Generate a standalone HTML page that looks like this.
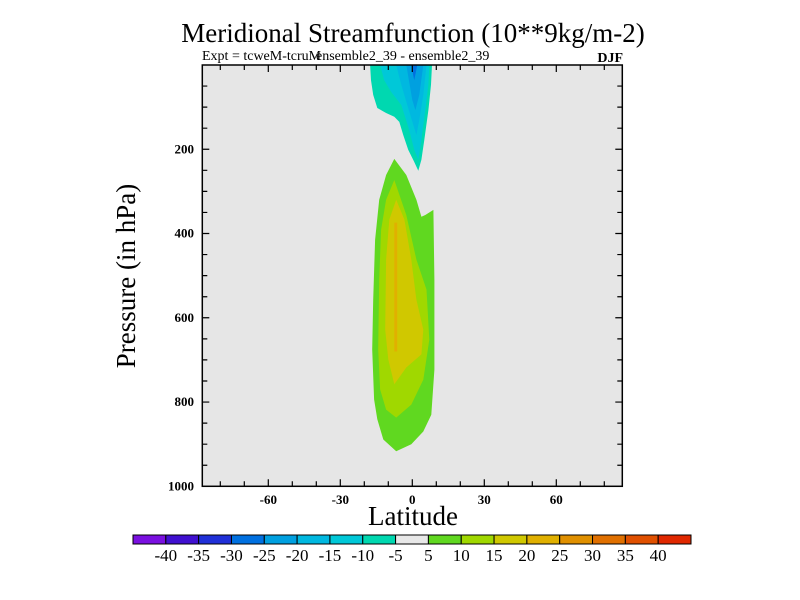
<!DOCTYPE html>
<html><head><meta charset="utf-8"><style>
html,body{margin:0;padding:0;background:#fff;}
svg{display:block;font-family:"Liberation Serif",serif;}
</style></head><body>
<svg id="chart" width="800" height="600" viewBox="0 0 800 600">
<text x="413" y="42" font-size="27" text-anchor="middle">Meridional Streamfunction (10**9kg/m-2)</text>
<text x="202" y="60" font-size="14">Expt = tcweM-tcruM</text>
<text x="316" y="60" font-size="14">ensemble2_39 - ensemble2_39</text>
<text x="623" y="62" font-size="14" text-anchor="end" font-weight="bold">DJF</text>
<rect x="202.3" y="65" width="420" height="421.3" fill="#e6e6e6"/>
<g id="fills"></g>
<g id="axes"></g>
<text x="413" y="525" font-size="27" text-anchor="middle">Latitude</text>
<text transform="translate(135,276) rotate(-90)" font-size="27" text-anchor="middle">Pressure (in hPa)</text>
<g id="colorbar"></g>
</svg>
<script>
const xTicks = [-60,-30,0,30,60];
const yTicks = [200,400,600,800,1000];
const barLabels = ["-40","-35","-30","-25","-20","-15","-10","-5","5","10","15","20","25","30","35","40"];
const barColors = ["#7a10e0","#4010d0","#2030d8","#0070e0","#00a0e0","#00b8e0","#00c8d8","#00d8b0","#e8e8e8","#60d820","#a0d800","#d0c800","#e0b000","#e09000","#e07000","#e05000","#e02800"];
// contour polygons as [lat, pressure]
const neg5 = [[-17.6,0],[-17.2,36],[-16.3,71],[-14.6,102],[-10.9,114],[-7.5,123],[-5.4,135],[-3.8,166],[-1.7,201],[0.8,230],[2.5,251],[3.8,225],[5.0,178],[6.7,107],[7.8,47],[8.2,0]];
const neg10 = [[-13.4,0],[-11.7,36],[-8.8,64],[-4.6,95],[-1.3,154],[0.8,201],[2.5,225],[3.8,178],[5.4,107],[6.7,47],[7.1,0]];
const neg15 = [[-6.7,0],[-4.6,47],[-2.1,95],[0.4,142],[1.7,166],[2.9,130],[4.6,71],[5.9,0]];
const neg20 = [[-2.5,0],[0,83],[1.3,107],[2.9,71],[4.6,0]];
const neg25 = [[-0.4,0],[0.8,36],[2.1,0]];
const pos5 = [[-7.5,223],[-10.9,261],[-13.8,320],[-15.5,415],[-16.3,557],[-16.7,675],[-15.9,794],[-14.6,841],[-12.1,889],[-6.7,917],[-0.4,900],[4.6,870],[7.9,830],[9.2,723],[9.2,510],[8.8,344],[5.4,356],[3.8,360],[1.7,320],[-2.5,261]];
const pos10 = [[-7.5,273],[-10.9,320],[-13,391],[-13.8,510],[-14.2,675],[-13.4,770],[-10.9,818],[-6.7,837],[-0.4,806],[4.6,747],[7.1,652],[5.9,533],[1.7,462],[-2.5,356]];
const pos15 = [[-6.7,320],[-9.6,367],[-10.9,462],[-11.3,628],[-10,699],[-7.5,758],[-2.5,718],[3.8,687],[4.6,628],[1.7,557],[-0.4,462],[-3.3,367]];
const pos20 = [[-7.5,374],[-6.3,374],[-6.3,680],[-7.5,680]];

const L=202.3,R=622.3,T=65,B=486.3;
const xs = lat => L + (lat+87.5)/175*(R-L);
const ys = p => T + p/1000*(B-T);
const NS="http://www.w3.org/2000/svg";
function mk(tag, attrs, parent){const e=document.createElementNS(NS,tag);for(const k in attrs)e.setAttribute(k,attrs[k]);parent.appendChild(e);return e;}

const fills=document.getElementById('fills');
const polys=[[neg5,barColors[7]],[neg10,barColors[6]],[neg15,barColors[5]],[neg20,barColors[4]],[neg25,barColors[3]],[pos5,barColors[9]],[pos10,barColors[10]],[pos15,barColors[11]],[pos20,barColors[12]]];
polys.forEach((pc,i)=>{
  const e=mk('polygon',{points:pc[0].map(q=>xs(q[0]).toFixed(1)+','+ys(q[1]).toFixed(1)).join(' '),fill:pc[1]},fills);
  
  
});

const ax=document.getElementById('axes');
const frame=mk('rect',{x:L,y:T,width:R-L,height:B-T,fill:'none',stroke:'#000','stroke-width':1.5},ax);


let d='';
for(let lat=-80;lat<=80;lat+=10){const x=xs(lat);const len=(lat%30===0)?7:5;d+=`M${x},${B}v${-len}M${x},${T}v${len}`;}
for(let p=50;p<1000;p+=50){const y=ys(p);const len=(p%200===0)?7:5;d+=`M${L},${y}h${len}M${R},${y}h${-len}`;}
const tk=mk('path',{d:d,stroke:'#000','stroke-width':1.2,fill:'none'},ax);


xTicks.forEach(v=>{
  const t=mk('text',{x:xs(v),y:504,'font-size':13,'text-anchor':'middle','font-weight':'bold'},ax);t.textContent=v;
  
  
});
yTicks.forEach(v=>{
  const t=mk('text',{x:194,y:ys(v)+4,'font-size':13,'text-anchor':'end','font-weight':'bold'},ax);t.textContent=v;
  
  
});

const cb=document.getElementById('colorbar');
const cbL=133,cbR=691,cbT=535,cbH=9,w=(cbR-cbL)/barColors.length;
barColors.forEach((c,i)=>{
  const r=mk('rect',{x:cbL+i*w,y:cbT,width:w,height:cbH,fill:c,stroke:'#000','stroke-width':1},cb);
  
  
});
barLabels.forEach((s,i)=>{
  const t=mk('text',{x:cbL+(i+1)*w,y:561,'font-size':17,'text-anchor':'middle'},cb);t.textContent=s;
  
  
});
</script>
</body></html>
